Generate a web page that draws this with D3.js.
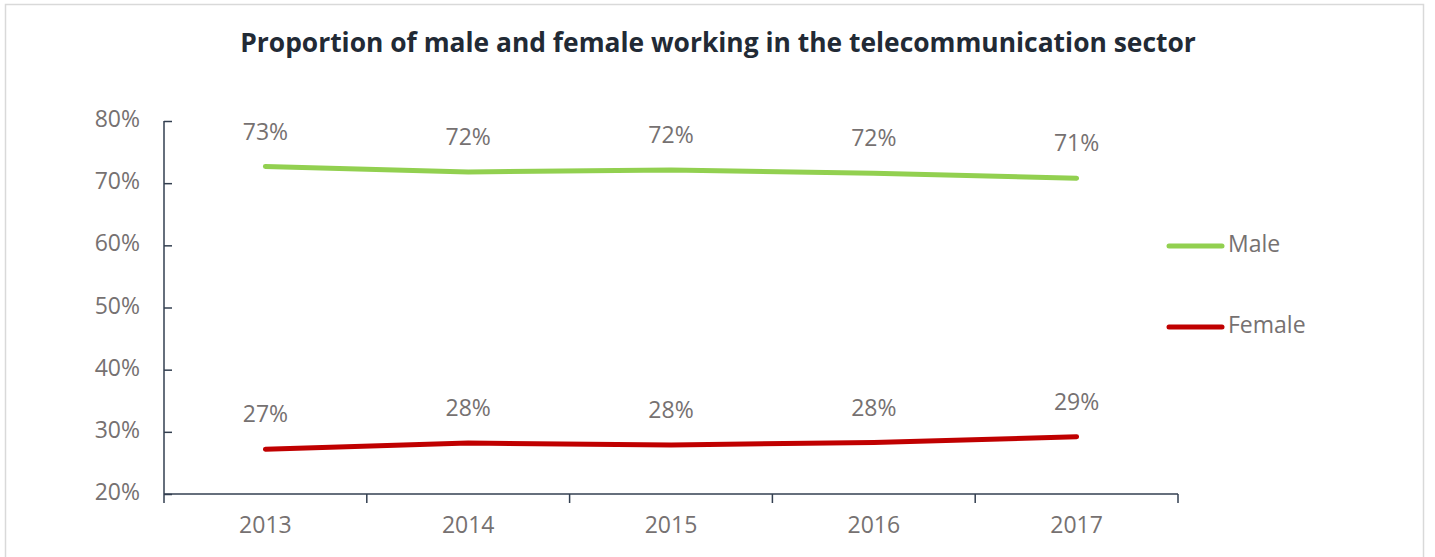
<!DOCTYPE html>
<html lang="en">
  <head>
    <meta charset="UTF-8" />
    <title>Telecom sector</title>
    <style>
      body { margin: 0; background: #fff; }
      text { font-family: "Open Sans", "Noto Sans", sans-serif; }
    </style>
  </head>
  <body>
    <script src="https://d3js.org/d3.v7.min.js"></script>
    <script>
      const years = ["2013", "2014", "2015", "2016", "2017"];
      const male = [72.7, 71.8, 72.1, 71.6, 70.8];
      const female = [27.2, 28.2, 27.9, 28.3, 29.2];
      const maleLabels = ["73%", "72%", "72%", "72%", "71%"];
      const femaleLabels = ["27%", "28%", "28%", "28%", "29%"];
      const yTicks = [20, 30, 40, 50, 60, 70, 80];

      const width = 1435, height = 557;
      const svg = d3.select("body").append("svg")
        .attr("width", width)
        .attr("height", height);

      // chart frame
      svg.append("rect")
        .attr("x", 5.5).attr("y", 4.5)
        .attr("width", 1418).attr("height", 600)
        .attr("fill", "none")
        .attr("stroke", "#d9d9d9")
        .attr("stroke-width", 1.5);

      svg.append("text")
        .attr("x", 718).attr("y", 45)
        .attr("text-anchor", "middle")
        .attr("dominant-baseline", "middle")
        .attr("font-size", 26.4)
        .attr("font-weight", "bold")
        .attr("fill", "#222a35")
        .text("Proportion of male and female working in the telecommunication sector");

      const x = d3.scaleBand().domain(years).range([164, 1178]);
      const y = d3.scaleLinear().domain([20, 80]).range([494, 121]);

      const axisColor = "#333f50";
      const textColor = "#767171";
      const fs = 23;

      // y axis
      const yAxis = svg.append("g")
        .attr("transform", "translate(164,0)")
        .call(d3.axisRight(y).tickValues(yTicks).tickSize(8).tickFormat(""));
      yAxis.select(".domain").attr("d", "M0,121V494").attr("stroke", axisColor).attr("stroke-width", 1.5);
      yAxis.selectAll(".tick line").attr("stroke", axisColor).attr("stroke-width", 1.5);

      svg.append("g").selectAll("text")
        .data(yTicks)
        .join("text")
        .attr("x", 140)
        .attr("y", d => y(d))
        .attr("text-anchor", "end")
        .attr("dominant-baseline", "middle")
        .attr("font-size", fs)
        .attr("fill", textColor)
        .text(d => d + "%");

      // x axis with ticks between categories
      const xAxis = svg.append("g")
        .attr("transform", "translate(0,494)");
      xAxis.append("line")
        .attr("x1", 164).attr("x2", 1178)
        .attr("stroke", axisColor).attr("stroke-width", 1.5);
      const edges = years.map(d => x(d)).concat([x(years[years.length - 1]) + x.bandwidth()]);
      xAxis.selectAll(".tk")
        .data(edges)
        .join("line")
        .attr("class", "tk")
        .attr("x1", d => d).attr("x2", d => d)
        .attr("y1", 0).attr("y2", 9)
        .attr("stroke", axisColor).attr("stroke-width", 1.5);
      xAxis.selectAll("text")
        .data(years)
        .join("text")
        .attr("x", d => x(d) + x.bandwidth() / 2)
        .attr("y", 33)
        .attr("text-anchor", "middle")
        .attr("dominant-baseline", "middle")
        .attr("font-size", fs)
        .attr("fill", textColor)
        .text(d => d);

      const cx = d => x(d) + x.bandwidth() / 2;
      const line = d3.line()
        .x((d, i) => cx(years[i]))
        .y(d => y(d));

      const series = [
        { name: "Male", values: male, labels: maleLabels, color: "#92d050", ly: 246 },
        { name: "Female", values: female, labels: femaleLabels, color: "#c00000", ly: 327 },
      ];

      series.forEach(s => {
        svg.append("path")
          .attr("d", line(s.values))
          .attr("fill", "none")
          .attr("stroke", s.color)
          .attr("stroke-width", 5)
          .attr("stroke-linecap", "round")
          .attr("stroke-linejoin", "round");

        svg.append("g").selectAll("text")
          .data(s.values)
          .join("text")
          .attr("x", (d, i) => cx(years[i]))
          .attr("y", d => y(d) - 33)
          .attr("text-anchor", "middle")
          .attr("dominant-baseline", "middle")
          .attr("font-size", fs)
          .attr("fill", textColor)
          .text((d, i) => s.labels[i]);

        // legend
        svg.append("line")
          .attr("x1", 1169).attr("x2", 1222)
          .attr("y1", s.ly).attr("y2", s.ly)
          .attr("stroke", s.color)
          .attr("stroke-width", 5)
          .attr("stroke-linecap", "round");
        svg.append("text")
          .attr("x", 1228).attr("y", s.ly)
          .attr("dominant-baseline", "middle")
          .attr("font-size", fs)
          .attr("fill", textColor)
          .text(s.name);
      });
    </script>
  </body>
</html>
